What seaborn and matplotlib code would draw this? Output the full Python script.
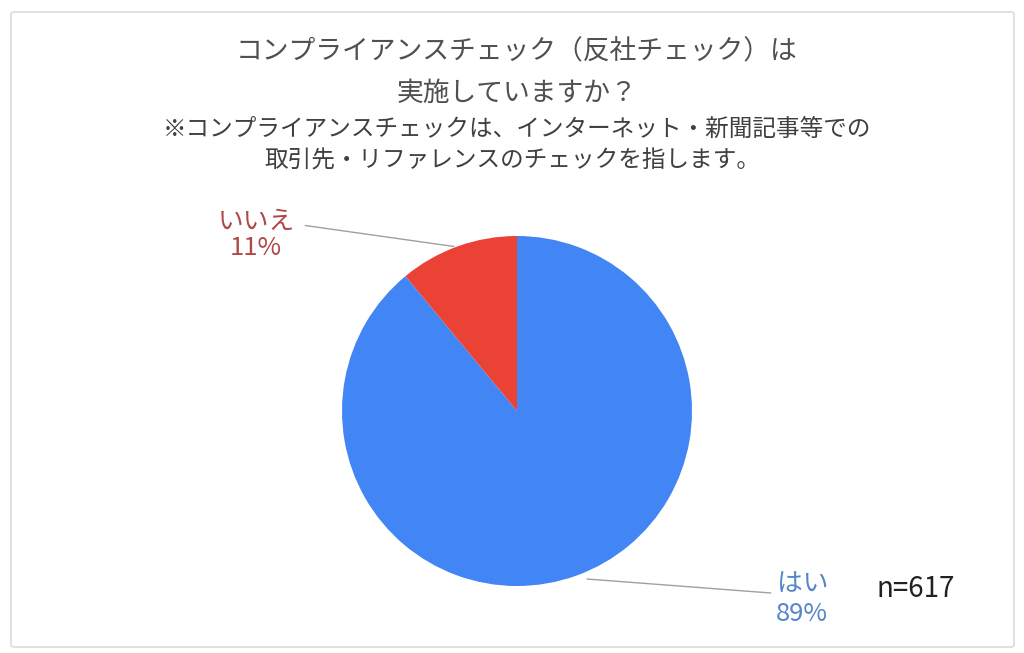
import matplotlib
matplotlib.use("Agg")
import matplotlib.pyplot as plt
import seaborn as sns
from matplotlib.patches import FancyBboxPatch

sns.set_theme(style="white")
plt.rcParams['font.family'] = ['Noto Sans CJK JP', 'DejaVu Sans']

categories = ["はい", "いいえ"]
values = [89, 11]
colors = ["#4285F4", "#EA4335"]
label_colors = ["#5585C8", "#B04848"]
title_lines = ["コンプライアンスチェック（反社チェック）は", "実施していますか？"]
note_lines = ["※コンプライアンスチェックは、インターネット・新聞記事等での",
              "取引先・リファレンスのチェックを指します。"]
n_text = "n=617"

W, H = 1024, 653
fig = plt.figure(figsize=(W / 100, H / 100), dpi=100)
fig.patch.set_facecolor("white")

# border
border = FancyBboxPatch((11 / W, 1 - 647 / H), (1014 - 11) / W, (647 - 12) / H,
                        boxstyle="round,pad=0,rounding_size=0.003",
                        transform=fig.transFigure, fill=False,
                        edgecolor="#dcdcdc", linewidth=1.2)
fig.add_artist(border)

# titles
fig.text(517 / W, 1 - 52 / H, title_lines[0], ha="center", va="center",
         fontsize=19.3, color="#505050")
fig.text(517 / W, 1 - 93 / H, title_lines[1], ha="center", va="center",
         fontsize=19.3, color="#505050")
fig.text(517 / W, 1 - 129 / H, note_lines[0], ha="center", va="center",
         fontsize=17, color="#404040")
fig.text(512 / W, 1 - 161 / H, note_lines[1], ha="center", va="center",
         fontsize=17, color="#404040")

# pie axes
cx, cy, r = 517, 411, 175
ax = fig.add_axes([(cx - r) / W, 1 - (cy + r) / H, 2 * r / W, 2 * r / H])
ax.pie(values, colors=colors, startangle=90, counterclock=False,
       wedgeprops=dict(linewidth=0))
ax.set_xlim(-1, 1)
ax.set_ylim(-1, 1)
ax.set_aspect("equal")
ax.axis("off")

# leader lines and labels
pct = [f"{v}%" for v in values]
# はい
ax.plot([0.40, 1.45], [-0.96, -1.04], color="#a0a0a0", lw=1, clip_on=False)
ax.text(1.63, -0.99, categories[0], ha="center", va="center", fontsize=18.5,
        color=label_colors[0], clip_on=False)
ax.text(1.63, -1.16, pct[0], ha="center", va="center", fontsize=18.5,
        color=label_colors[0], clip_on=False)
# いいえ
ax.plot([-0.36, -1.21], [0.94, 1.06], color="#a0a0a0", lw=1, clip_on=False)
ax.text(-1.49, 1.08, categories[1], ha="center", va="center", fontsize=18.5,
        color=label_colors[1], clip_on=False)
ax.text(-1.49, 0.93, pct[1], ha="center", va="center", fontsize=18.5,
        color=label_colors[1], clip_on=False)

fig.text(916 / W, 1 - 589 / H, n_text, ha="center", va="center",
         fontsize=20, color="#222222")

fig.savefig("out.png", dpi=100, facecolor="white")
